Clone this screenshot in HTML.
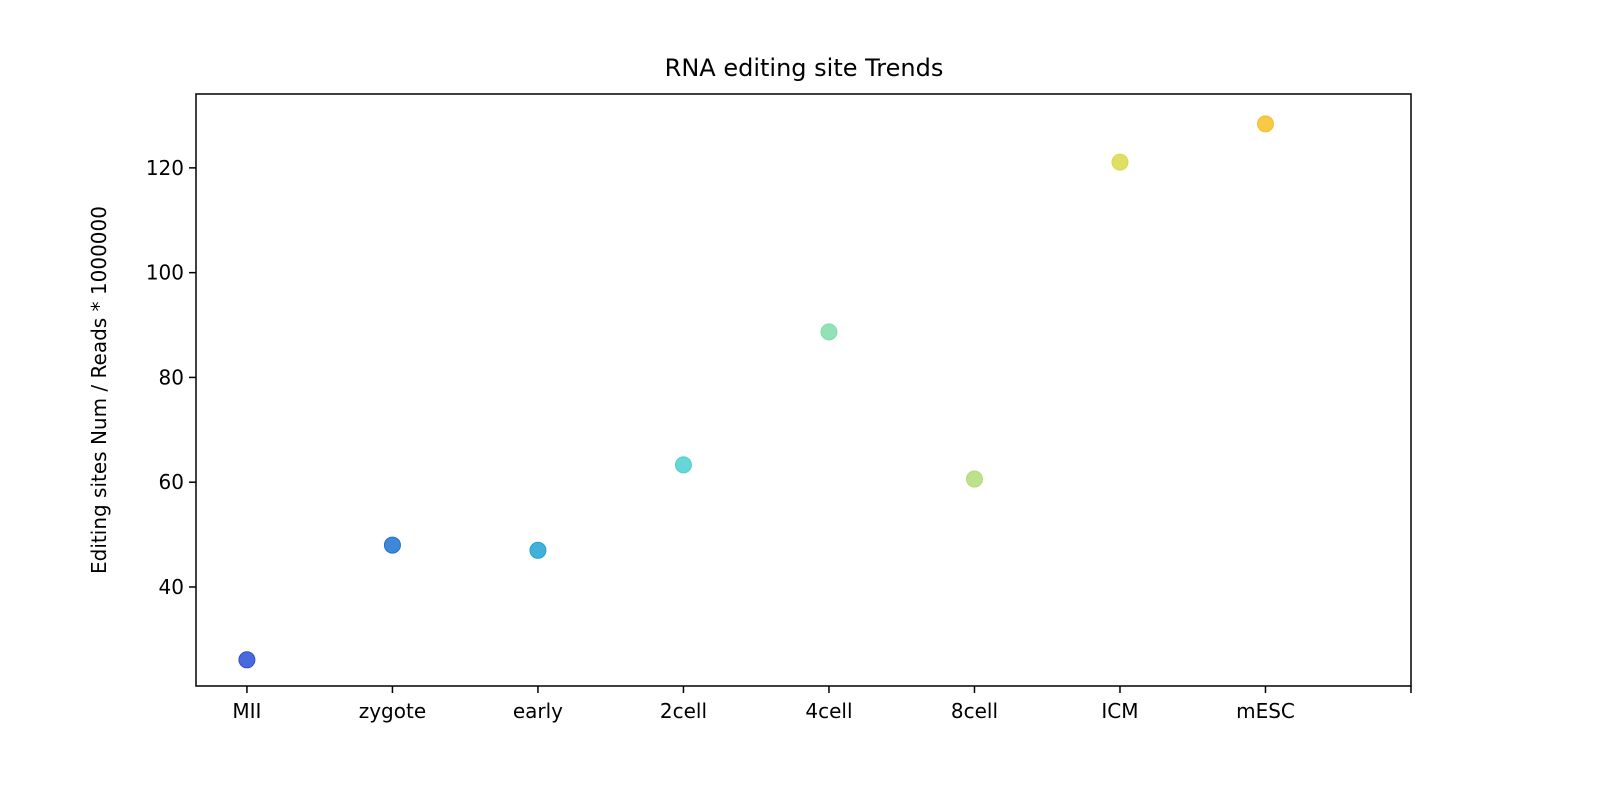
<!DOCTYPE html>
<html><head><meta charset="utf-8"><style>
body{margin:0;background:#fff;}
svg text{font-family:"DejaVu Sans","Liberation Sans",sans-serif;fill:#000;}
</style></head><body>
<svg id="chart" width="1600" height="800">
<rect width="1600" height="800" fill="#fff"/>
<text x="804" y="76" font-size="24" text-anchor="middle">RNA editing site Trends</text>
<text transform="translate(106,390) rotate(-90)" font-size="20" text-anchor="middle">Editing sites Num / Reads * 1000000</text>
<g id="marks"></g>
<rect x="196" y="94" width="1215" height="592" fill="none" stroke="#000" stroke-width="1.5"/>
</svg>
<script>
const categories=["MII","zygote","early","2cell","4cell","8cell","ICM","mESC"];
const values=[26.1,48.0,47.0,63.3,88.7,60.6,121.1,128.4];
const colors=["#2a4fd6","#1f72d2","#22a2d4","#4ccfd0","#80dcaa","#afdc78","#d8d94a","#f4bf26"];
const yTicks=[40,60,80,100,120];
const L=196,R=1411,T=94,B=686;
const xMin=-0.35,xMax=8,yMin=21.1,yMax=134.1;
const xs=i=>L+(i-xMin)/(xMax-xMin)*(R-L);
const ys=v=>B-(v-yMin)/(yMax-yMin)*(B-T);
const NS="http://www.w3.org/2000/svg";
const g=document.getElementById('marks');
function mk(t,a){const e=document.createElementNS(NS,t);for(const k in a)e.setAttribute(k,a[k]);g.appendChild(e);return e;}
yTicks.forEach(v=>{
 const y=ys(v);
 const l=mk('line',{x1:L-7,x2:L,y1:y,y2:y,stroke:'#000','stroke-width':1.5});
 
 
 const t=mk('text',{x:L-12,y:y+7,'font-size':20,'text-anchor':'end'});t.textContent=v;
 
 
});
for(let i=0;i<=categories.length;i++){
 const x=xs(i);
 const l=mk('line',{x1:x,x2:x,y1:B,y2:B+7,stroke:'#000','stroke-width':1.5});
 
 
 if(i<categories.length){
  const t=mk('text',{x:x,y:B+32,'font-size':20,'text-anchor':'middle'});t.textContent=categories[i];
  
  
 }
}
values.forEach((v,i)=>{
 const c=mk('circle',{cx:xs(i),cy:ys(v),r:8,fill:colors[i],'fill-opacity':0.85,stroke:colors[i],'stroke-width':1});
 
 
});
</script>
</body></html>
